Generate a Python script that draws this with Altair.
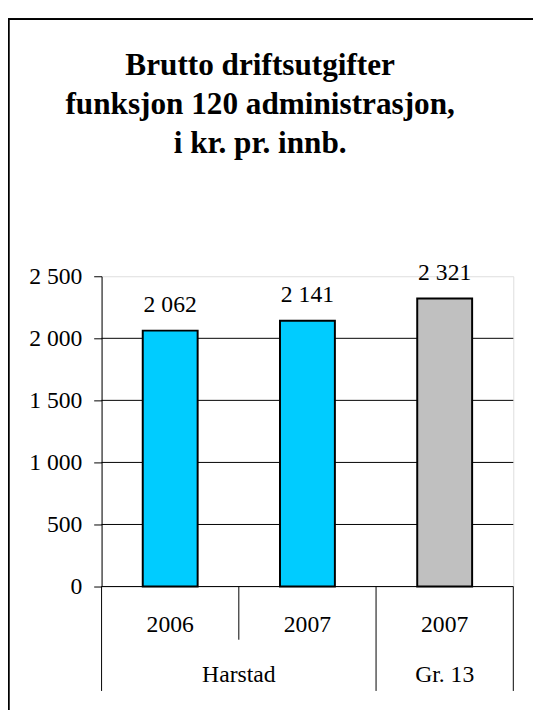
import altair as alt
import pandas as pd

# ---- data ----
title_lines = ["Brutto driftsutgifter", "funksjon 120 administrasjon,", "i kr. pr. innb."]
groups = ["Harstad", "Harstad", "Gr. 13"]
years = ["2006", "2007", "2007"]
values = [2062, 2141, 2321]
y_ticks = [0, 500, 1000, 1500, 2000, 2500]
grid_values = [0, 500, 1000, 1500, 2000]

group_names = ["Harstad", "Gr. 13"]
group_colors = ["#00CCFF", "#C0C0C0"]

FONT = "Liberation Serif"
FS = 24

bars_df = pd.DataFrame({"idx": list(range(len(values))), "group": groups,
                        "year": years, "value": values})

# group label centres (mean of category centres)
grp_rows = []
for g in group_names:
    ids = [i for i, gg in enumerate(groups) if gg == g]
    grp_rows.append({"group": g, "center": sum(ids) / len(ids) + 0.5})
grp_df = pd.DataFrame(grp_rows)

# separators between categories (long at group boundaries)
sep_rows = []
n = len(groups)
for b in range(n + 1):
    long_line = b == 0 or b == n or groups[b - 1] != groups[b]
    sep_rows.append({"b": b, "kind": "long" if long_line else "short"})
sep_df = pd.DataFrame(sep_rows)

grid_df = pd.DataFrame({"v": grid_values})
title_df = pd.DataFrame({"t": [0]})

xscale = alt.Scale(domain=[0, n], nice=False, zero=False)
yscale = alt.Scale(domain=[0, 2500], nice=False)
yaxis = alt.Axis(values=y_ticks, grid=False, domainColor="black", tickColor="black",
                 tickSize=8, labelFont=FONT, labelFontSize=FS, labelColor="black",
                 labelPadding=12, title=None,
                 labelExpr="replace(format(datum.value, ',d'), ',', ' ')")

W, H = 418, 315

grid = alt.Chart(grid_df).mark_rule(color="black", strokeWidth=1).encode(
    x=alt.X(datum=0, type="quantitative", scale=xscale, axis=None),
    x2=alt.X2(datum=n),
    y=alt.Y("v:Q", scale=yscale, axis=yaxis),
)

bars = alt.Chart(bars_df).transform_calculate(
    x0="datum.idx + 0.3", x1="datum.idx + 0.7"
).mark_bar(stroke="black", strokeWidth=2).encode(
    x=alt.X("x0:Q", scale=xscale, axis=None),
    x2="x1:Q",
    y=alt.Y("value:Q", scale=yscale, axis=yaxis),
    y2=alt.Y2(datum=0),
    color=alt.Color("group:N", scale=alt.Scale(domain=group_names, range=group_colors), legend=None),
)

value_labels = alt.Chart(bars_df).transform_calculate(
    xc="datum.idx + 0.5",
    lab="replace(format(datum.value, ',d'), ',', ' ')"
).mark_text(font=FONT, fontSize=FS, color="black", baseline="alphabetic", dy=-19).encode(
    x=alt.X("xc:Q", scale=xscale, axis=None),
    y=alt.Y("value:Q", scale=yscale, axis=yaxis),
    text="lab:N",
)

year_labels = alt.Chart(bars_df).transform_calculate(
    xc="datum.idx + 0.5"
).mark_text(font=FONT, fontSize=FS, color="black", baseline="alphabetic", dy=46).encode(
    x=alt.X("xc:Q", scale=xscale, axis=None),
    y=alt.Y(datum=0, type="quantitative", scale=yscale, axis=yaxis),
    text="year:N",
)

group_labels = alt.Chart(grp_df).mark_text(font=FONT, fontSize=FS, color="black",
                                           baseline="alphabetic", dy=97).encode(
    x=alt.X("center:Q", scale=xscale, axis=None),
    y=alt.Y(datum=0, type="quantitative", scale=yscale, axis=yaxis),
    text="group:N",
)

sep_short = alt.Chart(sep_df).transform_filter("datum.kind == 'short'").mark_rule(
    color="black", strokeWidth=1).encode(
    x=alt.X("b:Q", scale=xscale, axis=None),
    y=alt.value(H),
    y2=alt.value(H + 54),
)
sep_long = alt.Chart(sep_df).transform_filter("datum.kind == 'long'").mark_rule(
    color="black", strokeWidth=1).encode(
    x=alt.X("b:Q", scale=xscale, axis=None),
    y=alt.value(H),
    y2=alt.value(H + 106),
)

title = alt.Chart(title_df).mark_text(
    text=title_lines, font=FONT, fontSize=31.7, fontWeight="bold", color="black",
    align="center", baseline="alphabetic", lineHeight=39.7
).encode(x=alt.value(161), y=alt.value(-204.3))

# outer frame (left and top edges visible)
frame_left = alt.Chart(grid_df).mark_rule(color="black", strokeWidth=1.5).encode(
    x=alt.value(-94.5), y=alt.value(-261), y2=alt.value(H + 160))
frame_top = alt.Chart(grid_df).mark_rule(color="black", strokeWidth=1.5).encode(
    x=alt.value(-95), x2=alt.value(W + 40), y=alt.value(-261))

chart = alt.layer(
    frame_left, frame_top, grid, bars, value_labels, year_labels, group_labels,
    sep_short, sep_long, title
).properties(
    width=W, height=H,
    padding={"left": 95, "top": 267, "right": 20, "bottom": 120},
    autosize=alt.AutoSizeParams(type="none"),
).configure_view(stroke=None).configure(background="white")

chart.save("out.html", embed_options={"renderer": "svg", "actions": False})
